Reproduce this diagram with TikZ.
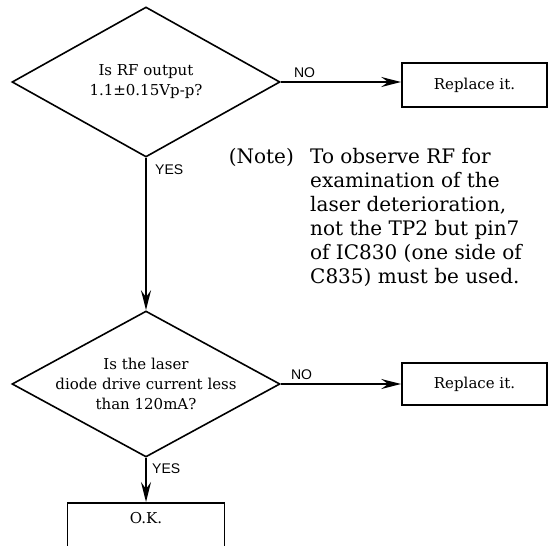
\documentclass[tikz,border=0pt]{standalone}
\usepackage{fontspec}
\setmainfont{DejaVu Serif}
\newfontfamily\labelfont{Liberation Sans}
\usetikzlibrary{arrows.meta,positioning,shapes.geometric}
\tikzset{
  decision/.style={diamond, draw=black, line width=1.6pt, minimum width=268pt, inner sep=0pt},
  qtext/.style={align=center, font=\fontsize{15}{20}\selectfont, inner sep=0pt},
  box/.style={rectangle, draw=black, line width=1.6pt, minimum width=145pt, font=\fontsize{15}{18}\selectfont},
  okbox/.style={box, minimum width=157pt, minimum height=0pt, inner ysep=5pt, text height=16pt, text depth=40pt},
  notetext/.style={align=left, font=\fontsize{20}{24}\selectfont, inner sep=0pt},
  lbl/.style={font=\labelfont\fontsize{14}{16}\selectfont, inner sep=0pt},
  flow/.style={-{Stealth[length=20pt,width=10pt,inset=7pt]}, line width=1.6pt}
}

\begin{document}
\begin{tikzpicture}[x=1pt,y=-1pt]
\clip (0,0) rectangle (549,546);
% first check
\node[decision, minimum height=150pt] (q1) at (146,82) {};
\node[qtext] (q1t) at (q1) {Is RF output\\1.1±0.15Vp-p?};
\node[box, minimum height=44pt] (r1) at (474.5,85) {Replace it.};
\draw[flow] (q1.east) -- (q1.east -| r1.west);
\node[lbl, above right=4pt and 13pt of q1.east] (no1) {NO};
\node[lbl, below right=7pt and 9pt of q1.south] (yes1) {YES};

% note
\node[notetext, anchor=north west] (note) at (310,148) {To observe RF for\\examination of the\\laser deterioration,\\not the TP2 but pin7\\of IC830 (one side of\\C835) must be used.};
\node[notetext, anchor=north east] (notehead) at ([xshift=-16pt]note.north west) {(Note)};

% second check
\node[decision, minimum height=146pt] (q2) at (146,384) {};
\node[qtext] (q2t) at (q2) {Is the laser\\diode drive current less\\than 120mA?};
\node[box, minimum height=42pt] (r2) at (474.5,384) {Replace it.};
\draw[flow] (q1.south) -- (q2.north);
\draw[flow] (q2.east) -- (q2.east -| r2.west);
\node[lbl, above right=4pt and 10pt of q2.east] (no2) {NO};
\node[lbl, below right=6pt and 6pt of q2.south] (yes2) {YES};

\node[okbox, anchor=north] (ok) at (146,502) {O.K.};
\draw[flow] (q2.south) -- (ok.north);
\end{tikzpicture}
\end{document}
